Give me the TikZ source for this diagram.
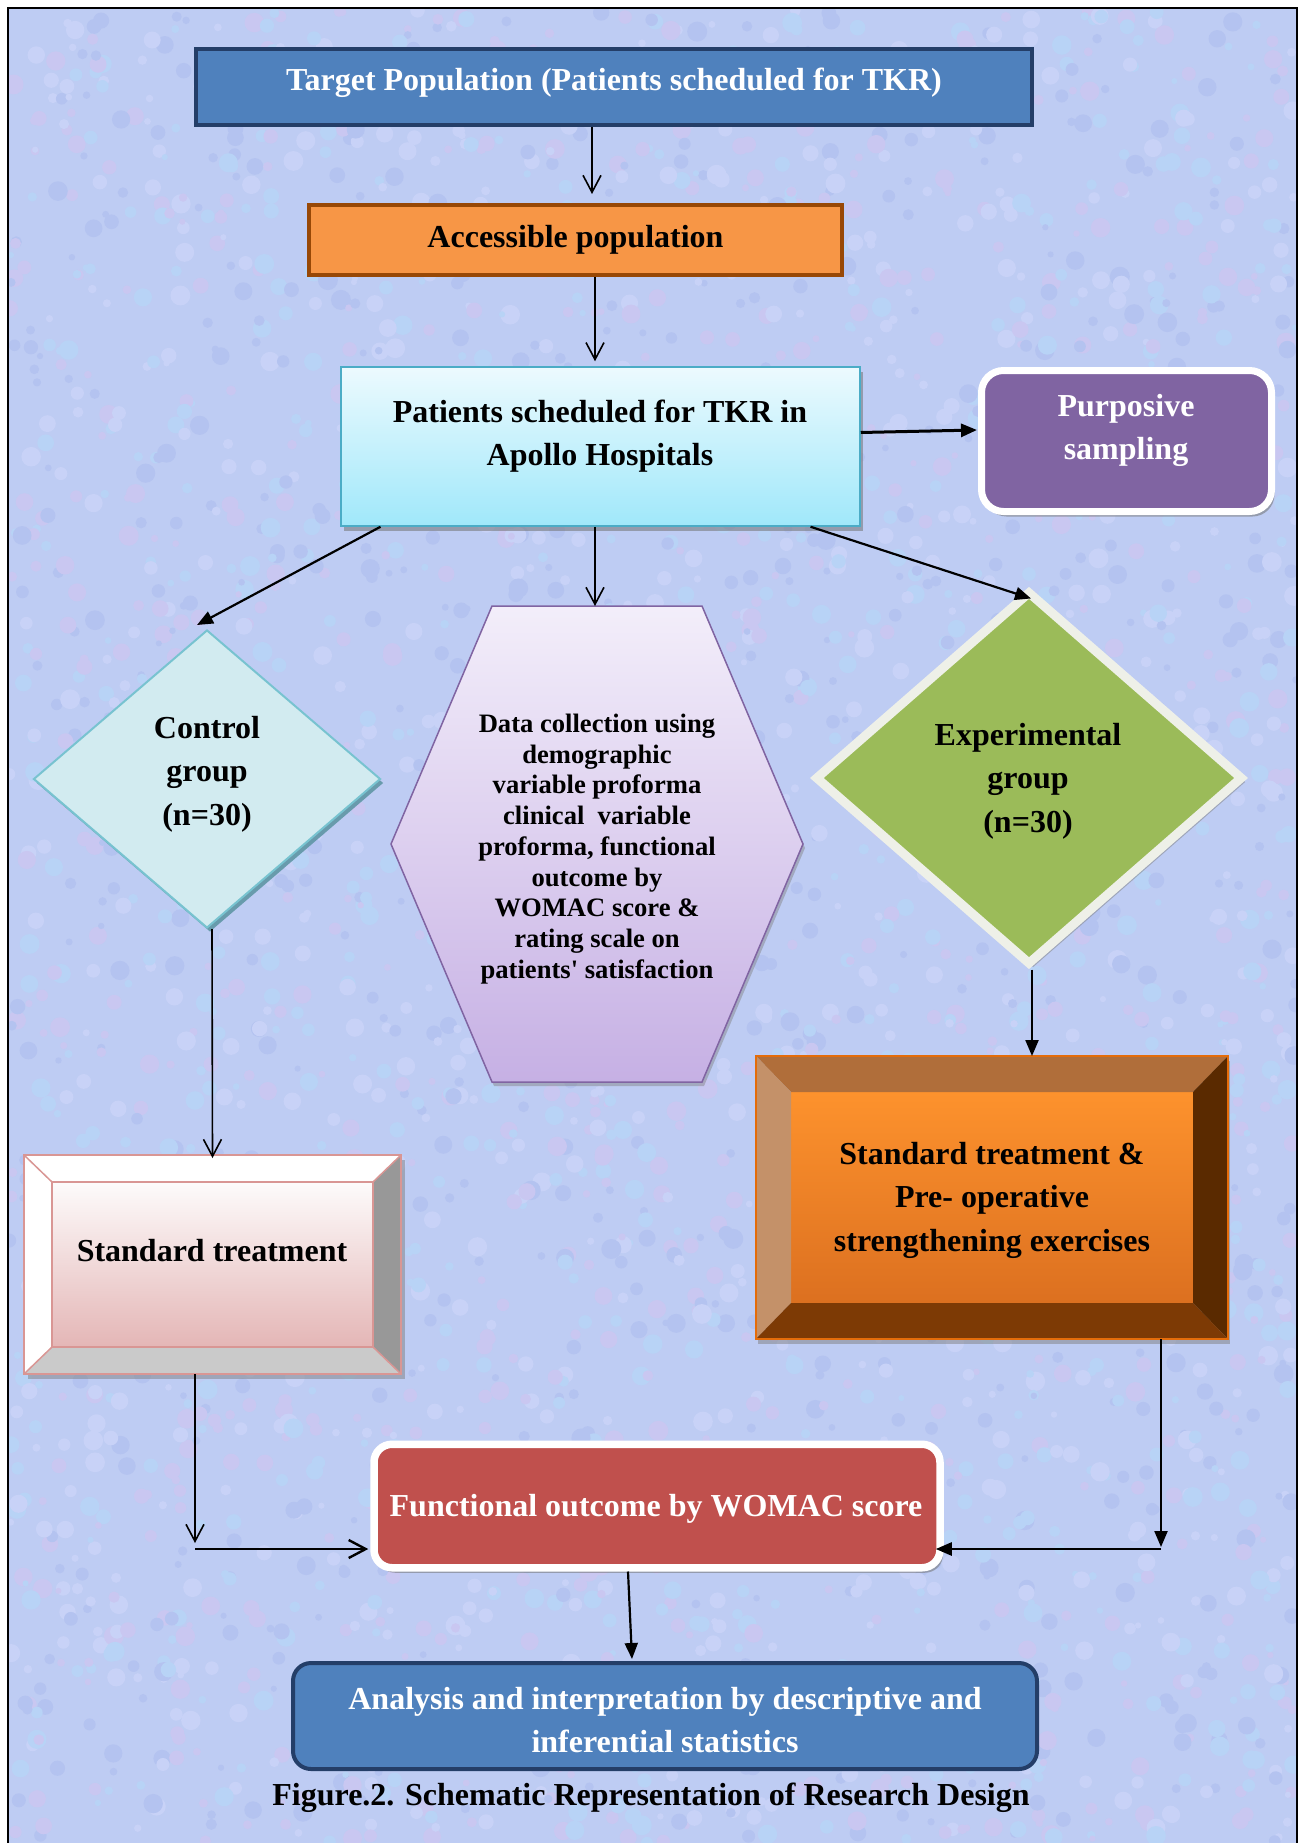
\documentclass[tikz,border=0pt]{standalone}
\usepackage{fontspec}
\setmainfont{Liberation Serif}
\usetikzlibrary{arrows.meta,shapes.geometric,shadows,calc}

\definecolor{bgbase}{RGB}{190,204,243}
\definecolor{bgA}{RGB}{218,192,238}
\definecolor{bgB}{RGB}{176,222,250}
\definecolor{bgC}{RGB}{166,182,236}
\definecolor{bgD}{RGB}{216,218,252}
\colorlet{bg1}{bgA!40!bgbase}
\colorlet{bg2}{bgB!40!bgbase}
\colorlet{bg3}{bgC!40!bgbase}
\colorlet{bg4}{bgD!40!bgbase}
\definecolor{tgtfill}{RGB}{79,129,189}
\definecolor{tgtborder}{RGB}{36,62,104}
\definecolor{accfill}{RGB}{247,150,70}
\definecolor{accborder}{RGB}{152,72,6}
\definecolor{pattop}{RGB}{236,250,254}
\definecolor{patbot}{RGB}{160,232,250}
\definecolor{patborder}{RGB}{75,172,198}
\definecolor{purfill}{RGB}{128,100,162}
\definecolor{ctrlfill}{RGB}{210,235,240}
\definecolor{ctrlborder}{RGB}{120,195,208}
\definecolor{ctrlshadow}{RGB}{95,150,165}
\definecolor{hextop}{RGB}{243,238,250}
\definecolor{hexbot}{RGB}{198,176,228}
\definecolor{hexborder}{RGB}{128,100,162}
\definecolor{expfill}{RGB}{155,187,89}
\definecolor{expborder}{RGB}{238,240,232}
\definecolor{stdright}{RGB}{152,152,152}
\definecolor{stdbottom}{RGB}{202,202,202}
\definecolor{stdtop}{RGB}{253,251,251}
\definecolor{stdbot}{RGB}{228,182,182}
\definecolor{stdborder}{RGB}{217,150,148}
\definecolor{orntopf}{RGB}{176,110,58}
\definecolor{ornleftf}{RGB}{196,145,105}
\definecolor{ornrightf}{RGB}{90,42,0}
\definecolor{ornbotf}{RGB}{125,58,5}
\definecolor{orninT}{RGB}{253,146,45}
\definecolor{orninB}{RGB}{220,112,32}
\definecolor{ornborder}{RGB}{228,108,10}
\definecolor{funfill}{RGB}{192,80,77}
\definecolor{anafill}{RGB}{79,129,189}
\definecolor{anaborder}{RGB}{36,62,104}

\tikzset{
  txt/.style={font=\fontsize{32}{43.5}\selectfont\bfseries, align=center, inner sep=0pt},
  smalltxt/.style={font=\fontsize{26.6}{30.75}\selectfont\bfseries, align=center, inner sep=0pt},
  openarr/.style={line width=1.6pt, -{Straight Barb[length=17pt,width=18pt]}},
  fillarr/.style={line width=2.2pt, -{Triangle[length=16pt,width=13pt]}},
  gshadow/.style={drop shadow={shadow xshift=3pt,shadow yshift=-5pt,fill=black!55,opacity=0.55}},
  emptybox/.style={inner sep=0pt, outer sep=0pt},
}

\begin{document}
\begin{tikzpicture}[x=1pt,y=-1pt]
\useasboundingbox (0,0) rectangle (1301,1843);
\fill[white] (0,0) rectangle (1301,1843);
% textured background
\begin{scope}
\clip (9,9) rectangle (1296,1843);
\fill[bgbase] (9,9) rectangle (1296,1843);
\pgfmathsetseed{4242}
\foreach \i in {1,...,3400}{
  \pgfmathsetmacro{\bx}{9+1287*rnd}
  \pgfmathsetmacro{\by}{9+1834*rnd}
  \pgfmathsetmacro{\br}{3+7*rnd}
  \pgfmathrandominteger{\bc}{1}{4}
  \fill[bg\bc] (\bx,\by) circle[radius=\br];
}
\end{scope}
\draw[line width=2pt] (8,1843) -- (8,8) -- (1297,8) -- (1297,1843);

% Target population
\node[draw=tgtborder, line width=4.5pt, fill=tgtfill, minimum width=836pt, minimum height=76pt, inner sep=0pt] (tgt) at (614,87) {};
\node[txt, text=white] (tgtT) at (614,83) {Target Population (Patients scheduled for TKR)};

% Accessible population
\node[draw=accborder, line width=4pt, fill=accfill, minimum width=533pt, minimum height=70pt, inner sep=0pt] (acc) at (575.5,240) {};
\node[txt] (accT) at (575.5,240) {Accessible population};

% Patients
\node[draw=patborder, line width=1.5pt, top color=pattop, bottom color=patbot, minimum width=519pt, minimum height=159pt, inner sep=0pt, gshadow] (pat) at (600.5,446.5) {};
\node[txt] (patT) at (600,436) {Patients scheduled for TKR in\\Apollo Hospitals};

% Purposive sampling
\node[draw=white, line width=7pt, fill=purfill, rounded corners=22pt, minimum width=290pt, minimum height=141pt, inner sep=0pt, gshadow] (pur) at (1126.5,441) {};
\node[txt, text=white] (purT) at (1126,430.5) {Purposive\\sampling};

% Control group diamond
\node[diamond, draw=ctrlborder, line width=2pt, fill=ctrlfill, minimum width=347pt, minimum height=298pt, inner sep=0pt,
      drop shadow={shadow xshift=3pt,shadow yshift=-4pt,fill=ctrlshadow,opacity=0.9}] (ctrl) at (207,779) {};
\node[txt] (ctrlT) at (207,774) {Control\\group\\(n=30)};

% Hexagon
\node[emptybox, minimum width=412pt, minimum height=476pt] (hex) at (597,844) {};
\shadedraw[draw=hexborder, line width=1.5pt, top color=hextop, bottom color=hexbot,
      drop shadow={shadow xshift=2pt,shadow yshift=-4pt,fill=black!50,opacity=0.45}]
  ([xshift=101pt]hex.north west) -- ([xshift=-101pt]hex.north east) -- (hex.east)
  -- ([xshift=-101pt]hex.south east) -- ([xshift=101pt]hex.south west) -- (hex.west) -- cycle;
\node[smalltxt] (hexT) at (597,849) {Data collection using\\demographic\\variable proforma\\clinical\ \ variable\\proforma, functional\\outcome by\\WOMAC score \&\\rating scale on\\patients\textquotesingle{} satisfaction};

% Experimental group diamond
\node[diamond, draw=expborder, line width=9pt, fill=expfill, minimum width=428pt, minimum height=374pt, inner sep=0pt,
      drop shadow={shadow xshift=4pt,shadow yshift=-4pt,fill=black!50,opacity=0.5}] (exp) at (1029,778) {};
\node[txt] (expT) at (1028,781) {Experimental\\group\\(n=30)};

% Standard treatment bevel box
\node[emptybox, minimum width=377pt, minimum height=219pt,
      drop shadow={shadow xshift=4pt,shadow yshift=-5pt,fill=black!50,opacity=0.5}] (std) at (212.5,1264.5) {};
\node[emptybox, top color=stdtop, bottom color=stdbot, minimum width=321pt, minimum height=165pt] (stdI) at (212.5,1264.5) {};
\fill[white] (std.north west) -- (std.north east) -- (stdI.north east) -- (stdI.north west) -- cycle;
\fill[white] (std.north west) -- (std.south west) -- (stdI.south west) -- (stdI.north west) -- cycle;
\fill[stdright] (std.north east) -- (std.south east) -- (stdI.south east) -- (stdI.north east) -- cycle;
\fill[stdbottom] (std.south west) -- (std.south east) -- (stdI.south east) -- (stdI.south west) -- cycle;
\draw[stdborder, line width=2pt] (std.north west) rectangle (std.south east);
\draw[stdborder, line width=2pt] (stdI.north west) rectangle (stdI.south east);
\draw[stdborder, line width=1.5pt] (std.north west) -- (stdI.north west) (std.north east) -- (stdI.north east)
   (std.south west) -- (stdI.south west) (std.south east) -- (stdI.south east);
\node[txt] (stdT) at (212,1251) {Standard treatment};

% Orange bevel box
\node[emptybox, minimum width=472pt, minimum height=283pt,
      drop shadow={shadow xshift=2pt,shadow yshift=-5pt,fill=black!50,opacity=0.5}] (orn) at (992,1197.5) {};
\node[emptybox, top color=orninT, bottom color=orninB, minimum width=402pt, minimum height=211pt] (ornI) at (992,1197.5) {};
\fill[orntopf] (orn.north west) -- (orn.north east) -- (ornI.north east) -- (ornI.north west) -- cycle;
\fill[ornleftf] (orn.north west) -- (orn.south west) -- (ornI.south west) -- (ornI.north west) -- cycle;
\fill[ornrightf] (orn.north east) -- (orn.south east) -- (ornI.south east) -- (ornI.north east) -- cycle;
\fill[ornbotf] (orn.south west) -- (orn.south east) -- (ornI.south east) -- (ornI.south west) -- cycle;
\draw[ornborder, line width=1.5pt] (orn.north west) rectangle (orn.south east);
\node[txt] (ornT) at (992,1200) {Standard treatment \&\\Pre- operative\\strengthening exercises};

% Functional outcome
\node[draw=white, line width=7.5pt, fill=funfill, rounded corners=18pt, minimum width=566pt, minimum height=123.5pt, inner sep=0pt, gshadow] (fun) at (657,1506) {};
\node[txt, text=white] (funT) at (656,1509) {Functional outcome by WOMAC score};

% Analysis
\node[draw=anaborder, line width=4pt, fill=anafill, rounded corners=18pt, minimum width=744pt, minimum height=106pt, inner sep=0pt] (ana) at (665,1716) {};
\node[txt, text=white] (anaT) at (665,1720) {Analysis and interpretation by descriptive and\\inferential statistics};

% Caption
\node[txt] (cap) at (651,1798) {Figure.2. Schematic Representation of Research Design};

% Connectors
\coordinate (jl) at (195,1549);
\coordinate (jr) at (1161,1549);
\draw[openarr] ([xshift=-22pt]tgt.south) -- ([xshift=16.5pt,yshift=9pt]acc.north);
\draw[openarr] ([xshift=19.5pt]acc.south) -- ([xshift=-5.5pt,yshift=5pt]pat.north);
\draw[fillarr, line width=3pt] ([yshift=14pt]pat.east) -- ([xshift=-1pt,yshift=11pt]pur.west);
\draw[fillarr] ([xshift=-220pt]pat.south) -- ([xshift=-10pt,yshift=4pt]ctrl.north);
\draw[openarr] ([xshift=-5.5pt]pat.south) -- ([xshift=-2pt]hex.north);
\draw[fillarr] ([xshift=210pt]pat.south) -- ([xshift=2pt,yshift=-12pt]exp.north);
\draw[openarr] ([xshift=5pt]ctrl.south) -- ([yshift=-3pt]std.north);
\draw[fillarr] ([xshift=3pt]exp.south) -- ([xshift=40pt]orn.north);
\draw[openarr] ([xshift=-17.5pt]std.south) -- ([yshift=6pt]jl);
\draw[openarr, line width=2.4pt] (jl) -- ([xshift=-2pt,yshift=-43pt]fun.west);
\draw[fillarr] ([xshift=169pt]orn.south) -- ([yshift=2pt]jr);
\draw[fillarr, line width=2.6pt] (jr) -- ([xshift=-8pt,yshift=-43pt]fun.east);
\draw[fillarr] ([xshift=-29pt]fun.south) -- ([xshift=-33pt,yshift=2pt]ana.north);
\end{tikzpicture}
\end{document}
